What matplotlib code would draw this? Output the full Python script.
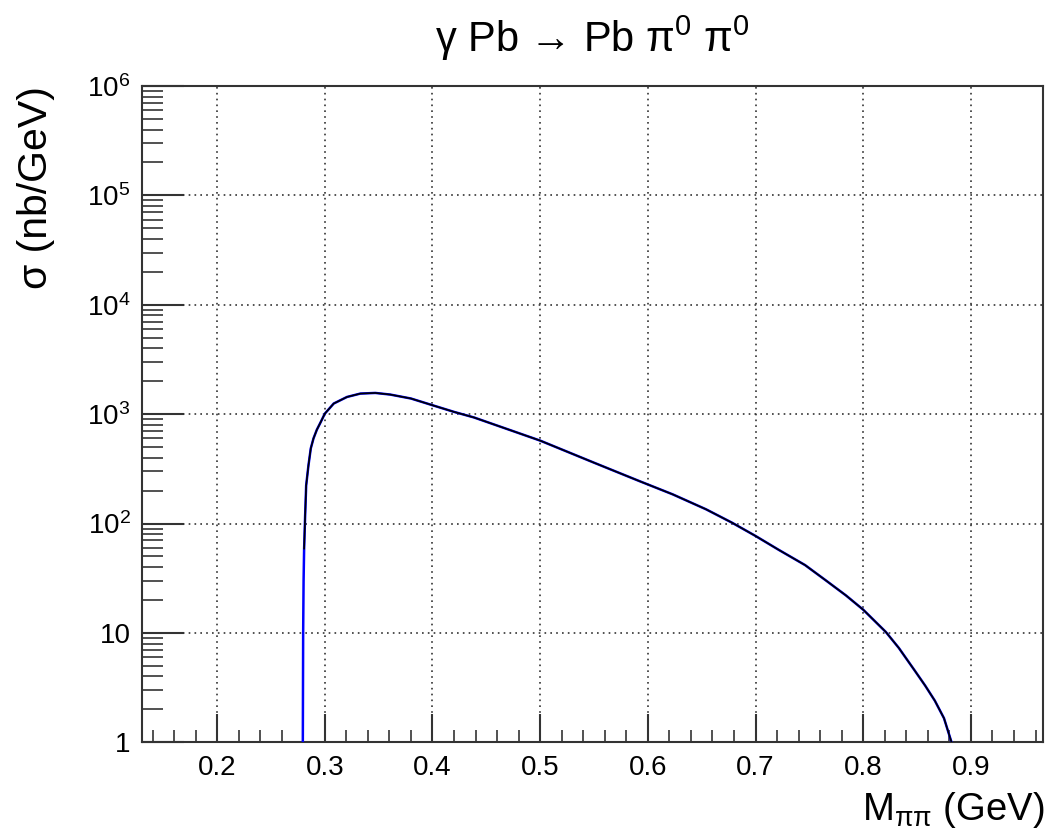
"""
Cross section versus pi0 pi0 invariant mass for gamma Pb -> Pb pi0 pi0.
"""
import matplotlib
matplotlib.use("Agg")
import matplotlib.pyplot as plt
from matplotlib.ticker import FixedLocator, MultipleLocator, LogLocator, NullFormatter

plt.rcParams["font.family"] = ["Liberation Sans", "DejaVu Sans"]
plt.rcParams["mathtext.fontset"] = "custom"
plt.rcParams["mathtext.rm"] = "Liberation Sans"
plt.rcParams["mathtext.it"] = "Liberation Sans"
plt.rcParams["mathtext.bf"] = "Liberation Sans"

# smooth model curve (blue)
mass = [0.2795, 0.2799, 0.2803, 0.2808, 0.2817, 0.2827, 0.2848, 0.287, 0.2895,
        0.2926, 0.2963, 0.300, 0.3083, 0.3206, 0.333, 0.3469, 0.3607, 0.380,
        0.400, 0.420, 0.4385, 0.47, 0.5, 0.55, 0.5923, 0.623, 0.654, 0.678,
        0.700, 0.7215, 0.746, 0.7655, 0.784, 0.800, 0.821, 0.833, 0.848,
        0.8575, 0.8665, 0.875, 0.882, 0.8835]
sigma = [0.5, 10, 30, 59, 115, 223, 339, 487, 600,
         720, 850, 1010, 1251, 1436, 1542, 1563, 1511, 1390,
         1207, 1049, 933, 727, 573, 360, 244, 185, 135, 102,
         77, 57.5, 41.7, 30.1, 22, 16.3, 10.2, 7.3, 4.5,
         3.3, 2.4, 1.66, 1.0, 0.85]

# generated histogram (black) follows the curve from its first filled bin
hist_start = 3

y_ticks = [1, 10, 100, 1e3, 1e4, 1e5, 1e6]
y_tick_labels = ["1", "10", "$10^{2}$", "$10^{3}$", "$10^{4}$", "$10^{5}$", "$10^{6}$"]
x_ticks = [0.2, 0.3, 0.4, 0.5, 0.6, 0.7, 0.8, 0.9]
x_tick_labels = ["0.2", "0.3", "0.4", "0.5", "0.6", "0.7", "0.8", "0.9"]


def mass_plot():
    fig = plt.figure(figsize=(10.46, 8.35), dpi=100)
    ax = fig.add_axes([0.1355, 0.111, 0.8617, 0.786])

    ax.plot(mass, sigma, color="#0000ff", lw=1.8, zorder=3)
    ax.plot(mass[hist_start:], sigma[hist_start:], color="black", lw=1.2, zorder=4)

    ax.set_yscale("log")
    ax.set_xlim(0.13, 0.967)
    ax.set_ylim(1, 1e6)

    ax.xaxis.set_major_locator(FixedLocator(x_ticks))
    ax.set_xticklabels(x_tick_labels)
    ax.xaxis.set_minor_locator(MultipleLocator(0.02))
    ax.yaxis.set_major_locator(FixedLocator(y_ticks))
    ax.set_yticklabels(y_tick_labels)
    ax.yaxis.set_minor_locator(LogLocator(base=10, subs=range(2, 10), numticks=20))
    ax.yaxis.set_minor_formatter(NullFormatter())

    ax.tick_params(axis="both", which="both", direction="in", colors="#333333",
                   labelcolor="black", labelsize=20)
    ax.tick_params(axis="x", which="major", length=20, width=1.5, pad=9)
    ax.tick_params(axis="x", which="minor", length=9, width=1.2)
    ax.tick_params(axis="y", which="major", length=30, width=1.5, pad=8)
    ax.tick_params(axis="y", which="minor", length=15, width=1.2)

    for spine in ax.spines.values():
        spine.set_color("#333333")
        spine.set_linewidth(1.5)

    ax.grid(True, which="major", color="#333333", linestyle=(0, (1, 2.5)), lw=1.2)

    fig.text(0.566, 0.954, r"γ Pb → Pb π$^{0}$ π$^{0}$", fontsize=30,
             ha="center", va="center")
    fig.text(0.999, 0.030, r"M$_{\mathrm{ππ}}$ (GeV)", fontsize=27.5,
             ha="right", va="center")
    fig.text(0.034, 0.897, "σ (nb/GeV)", fontsize=29.5, rotation=90,
             ha="center", va="top")

    fig.savefig("out.png", dpi=100)


if __name__ == "__main__":
    mass_plot()
